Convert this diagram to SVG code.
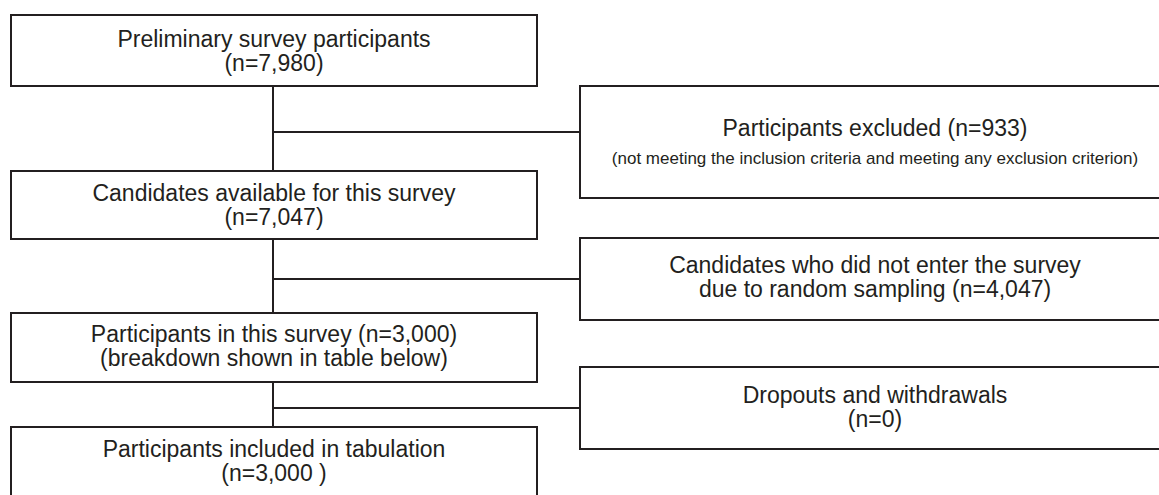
<svg xmlns="http://www.w3.org/2000/svg" width="1159" height="495" viewBox="0 0 1159 495">
<style>
.box{fill:#fff;stroke:#231f20;stroke-width:2}
.ln{stroke:#231f20;stroke-width:2;fill:none}
.t{font-family:"Liberation Sans",Arial,sans-serif;font-size:23px;fill:#231f20;text-anchor:middle}
.s{font-family:"Liberation Sans",Arial,sans-serif;font-size:17px;fill:#231f20;text-anchor:middle}
</style>
<rect width="1159" height="495" fill="#fff"/>
<g id="connectors">
<path class="ln" d="M273 86V171M273 239V313M273 382V427M273 132H580M273 279H580M273 408H580"/>
</g>
<g id="n1">
<rect class="box" x="11" y="15" width="526" height="71"/>
<text class="t" x="274" y="47">Preliminary survey participants</text>
<text class="t" x="274" y="71">(n=7,980)</text>
</g>
<g id="n2">
<rect class="box" x="580" y="86" width="590" height="112"/>
<text class="t" x="875" y="136">Participants excluded (n=933)</text>
<text class="s" x="875" y="164">(not meeting the inclusion criteria and meeting any exclusion criterion)</text>
</g>
<g id="n3">
<rect class="box" x="11" y="171" width="526" height="68"/>
<text class="t" x="274" y="201">Candidates available for this survey</text>
<text class="t" x="274" y="225">(n=7,047)</text>
</g>
<g id="n4">
<rect class="box" x="580" y="238" width="590" height="82"/>
<text class="t" x="875" y="273">Candidates who did not enter the survey</text>
<text class="t" x="875" y="297">due to random sampling (n=4,047)</text>
</g>
<g id="n5">
<rect class="box" x="11" y="313" width="526" height="69"/>
<text class="t" x="274" y="342">Participants in this survey (n=3,000)</text>
<text class="t" x="274" y="366">(breakdown shown in table below)</text>
</g>
<g id="n6">
<rect class="box" x="580" y="367" width="590" height="82"/>
<text class="t" x="875" y="403">Dropouts and withdrawals</text>
<text class="t" x="875" y="427">(n=0)</text>
</g>
<g id="n7">
<rect class="box" x="11" y="427" width="526" height="80"/>
<text class="t" x="274" y="457">Participants included in tabulation</text>
<text class="t" x="274" y="481">(n=3,000 )</text>
</g>
</svg>
